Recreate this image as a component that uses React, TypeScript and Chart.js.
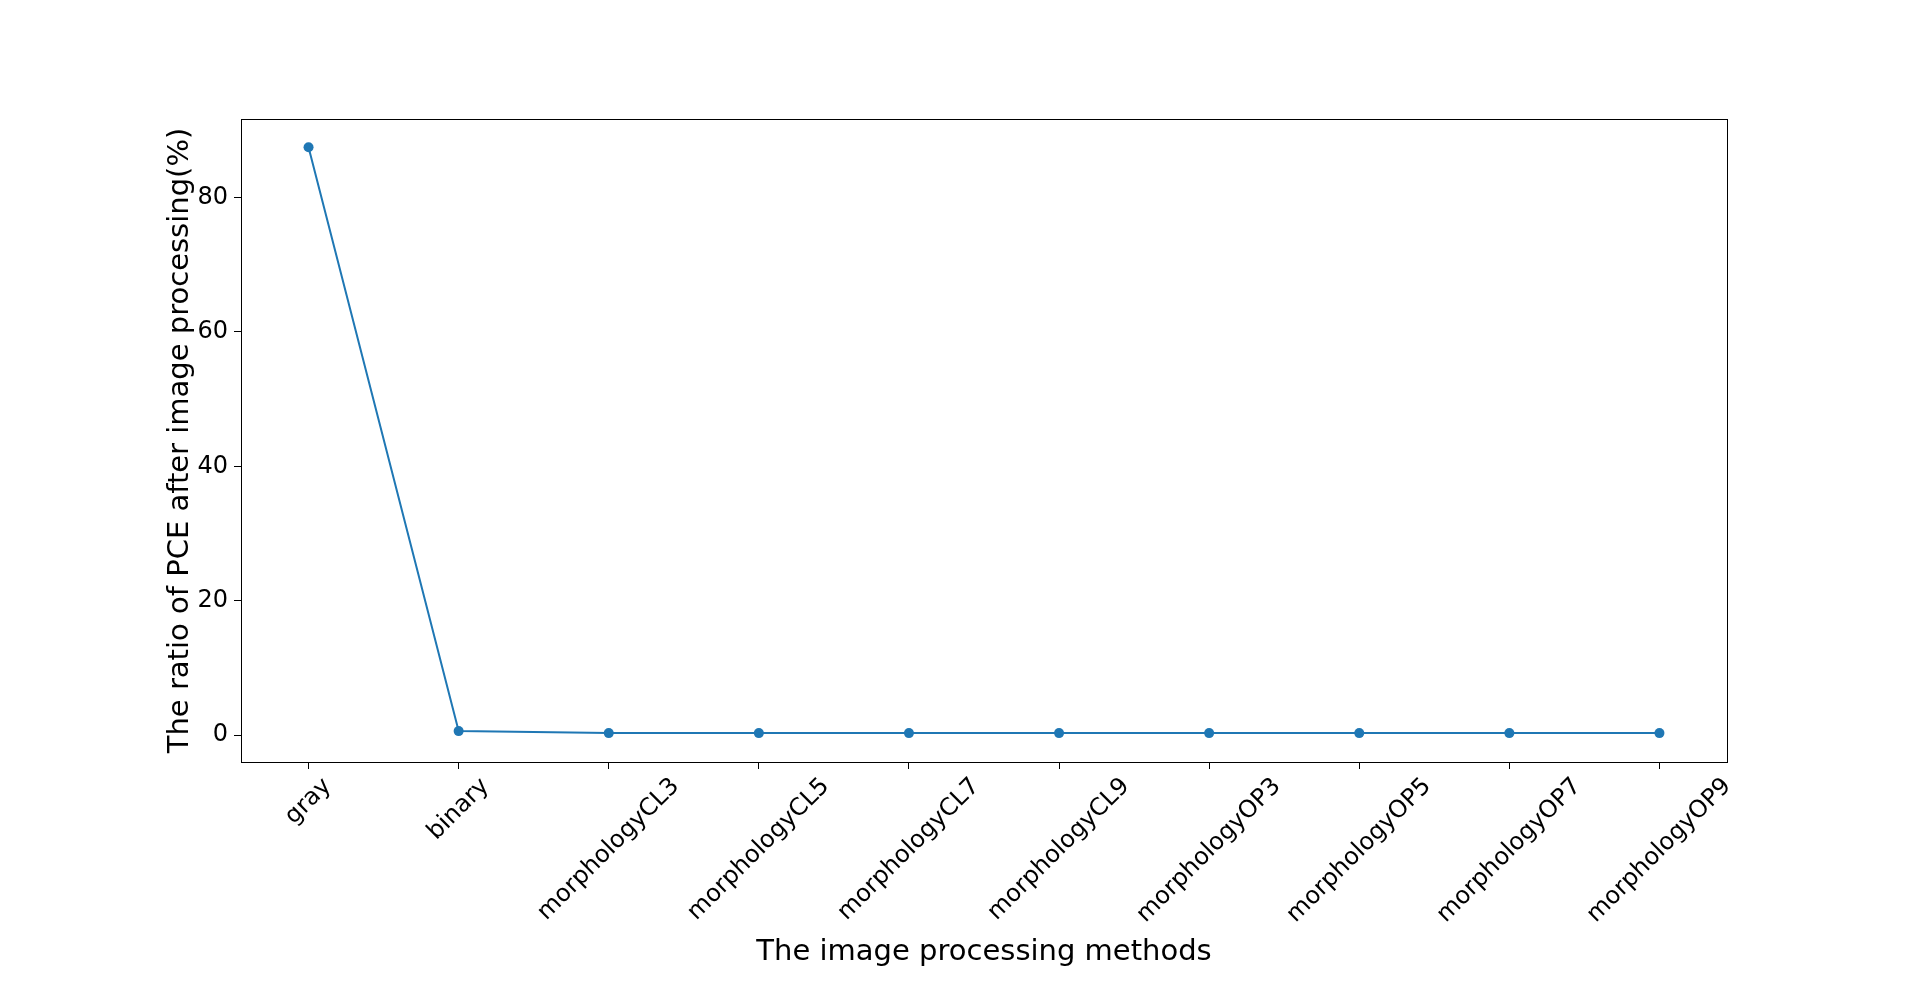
import { useEffect, useRef } from 'react';
import { Chart, registerables } from 'chart.js';

Chart.register(...registerables);

// 数据
const methods = ['gray', 'binary', 'morphologyCL3', 'morphologyCL5', 'morphologyCL7', 'morphologyCL9', 'morphologyOP3', 'morphologyOP5', 'morphologyOP7', 'morphologyOP9'];
const ratios = [87.5, 0.6, 0.3, 0.3, 0.3, 0.3, 0.3, 0.3, 0.3, 0.3];
const yTicks = [0, 20, 40, 60, 80];

const FONT = '"DejaVu Sans", sans-serif';

// 画外框、旋转的x标签和坐标轴标题
const decorPlugin = {
  id: 'decor',
  afterDraw(chart: any) {
    const { ctx, chartArea: a, scales } = chart;
    ctx.save();
    ctx.strokeStyle = '#000';
    ctx.lineWidth = 1;
    ctx.strokeRect(a.left + 0.5, a.top + 0.5, a.right - a.left, a.bottom - a.top);
    ctx.fillStyle = '#000';
    ctx.font = `24px ${FONT}`;
    const s = Math.SQRT1_2;
    methods.forEach((m, i) => {
      const x = scales.x.getPixelForValue(i);
      const w = ctx.measureText(m).width;
      const h = 24;
      const bh = (w + h) * s;
      ctx.save();
      ctx.translate(x, a.bottom + 12 + bh / 2);
      ctx.rotate(-Math.PI / 4);
      ctx.textAlign = 'center';
      ctx.textBaseline = 'middle';
      ctx.fillText(m, 0, 0);
      ctx.restore();
    });
    ctx.font = `29px ${FONT}`;
    ctx.textAlign = 'center';
    ctx.textBaseline = 'middle';
    ctx.fillText('The image processing methods', (a.left + a.right) / 2, 952);
    ctx.save();
    ctx.translate(180, (a.top + a.bottom) / 2);
    ctx.rotate(-Math.PI / 2);
    ctx.fillText('The ratio of PCE after image processing(%)', 0, 0);
    ctx.restore();
    ctx.restore();
  },
};

export default function App() {
  const ref = useRef<HTMLCanvasElement>(null);

  useEffect(() => {
    if (!ref.current) return;
    document.body.style.margin = '0';
    const chart = new Chart(ref.current, {
      type: 'line',
      data: {
        datasets: [{
          data: ratios.map((v, i) => ({ x: i, y: v })),
          borderColor: '#1f77b4',
          backgroundColor: '#1f77b4',
          borderWidth: 2,
          pointRadius: 5,
          pointBorderWidth: 0,
          tension: 0,
        }],
      },
      options: {
        animation: false,
        responsive: false,
        layout: { padding: { top: 119, right: 193, left: 0, bottom: 0 } },
        plugins: { legend: { display: false }, tooltip: { enabled: false } },
        scales: {
          x: {
            type: 'linear',
            min: -0.45,
            max: 9.45,
            afterBuildTicks: (s: any) => { s.ticks = methods.map((_, i) => ({ value: i })); },
            afterFit: (s: any) => { s.height = 220; },
            ticks: { display: false },
            grid: { drawOnChartArea: false, drawTicks: true, tickLength: 7, color: '#000' },
            border: { color: '#000' },
          },
          y: {
            min: -4,
            max: 91.7,
            afterBuildTicks: (s: any) => { s.ticks = yTicks.map(v => ({ value: v })); },
            afterFit: (s: any) => { s.width = 241; },
            ticks: { color: '#000', font: { family: FONT, size: 24 }, padding: 6 },
            grid: { drawOnChartArea: false, drawTicks: true, tickLength: 7, color: '#000' },
            border: { color: '#000' },
          },
        },
      },
      plugins: [decorPlugin],
    });
    return () => chart.destroy();
  }, []);

  return <canvas ref={ref} width={1920} height={982} style={{ display: 'block' }} />;
}
